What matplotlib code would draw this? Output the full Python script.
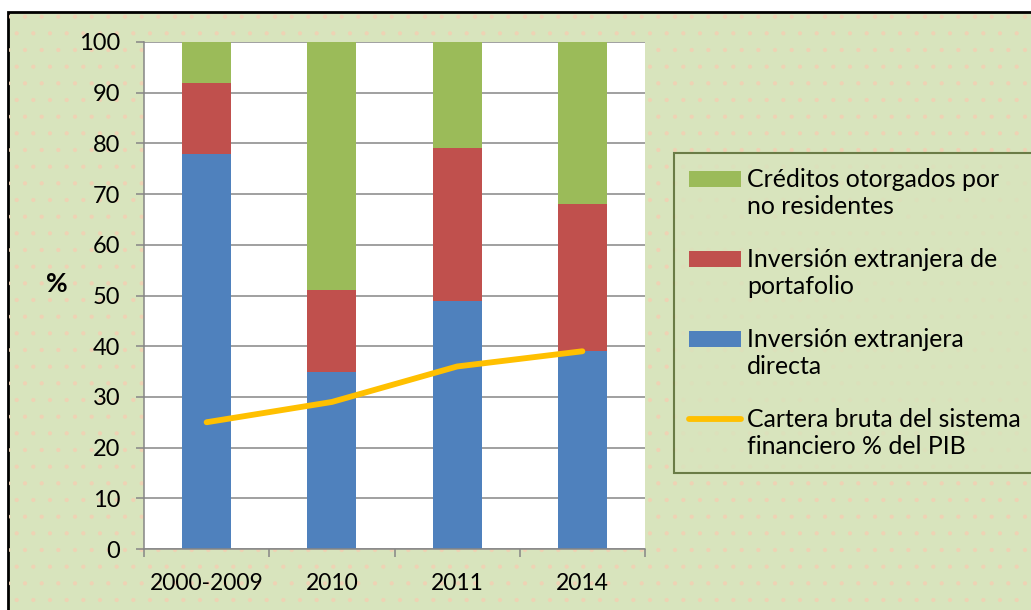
import matplotlib
matplotlib.use("Agg")
import matplotlib.pyplot as plt
from matplotlib.patches import Patch, Rectangle
from matplotlib.lines import Line2D
import numpy as np

plt.rcParams['font.family'] = ['Lato', 'DejaVu Sans']
plt.rcParams['hatch.linewidth'] = 0.6

categories = ["2000-2009", "2010", "2011", "2014"]
ied = [78, 35, 49, 39]          # Inversión extranjera directa
portafolio = [14, 16, 30, 29]   # Inversión extranjera de portafolio
creditos = [8, 49, 21, 32]      # Créditos otorgados por no residentes
cartera = [25, 29, 36, 39]      # Cartera bruta del sistema financiero % del PIB

c_blue = "#4F81BD"
c_red = "#C0504D"
c_green = "#9BBB59"
c_line = "#FFC000"
bg = "#D8E4BD"

fig = plt.figure(figsize=(10.31, 6.10), dpi=100)
fig.patch.set_facecolor("white")
# chart area background with black border (and faint dot pattern)
fig.patches.append(Rectangle((8 / 1031, -0.05), 1.1, 1 - 12 / 610 + 0.05,
                             transform=fig.transFigure, facecolor=bg,
                             edgecolor="black", linewidth=2, zorder=-10))
fig.patches.append(Rectangle((9 / 1031, -0.05), 1.1, 1 - 13 / 610 + 0.05,
                             transform=fig.transFigure, facecolor="none",
                             edgecolor="#EFD2B4", linewidth=0, hatch=".",
                             zorder=-9))

ax = fig.add_axes([144 / 1031, 1 - 549 / 610, (645 - 144) / 1031, (549 - 42) / 610])
ax.set_facecolor("white")

x = np.arange(len(categories))
w = 0.39
bottom2 = np.array(ied)
bottom3 = bottom2 + np.array(portafolio)
ax.bar(x, ied, w, color=c_blue, zorder=2)
ax.bar(x, portafolio, w, bottom=bottom2, color=c_red, zorder=2)
ax.bar(x, creditos, w, bottom=bottom3, color=c_green, zorder=2)
ax.plot(x, cartera, color=c_line, linewidth=4.2, solid_capstyle="round",
        solid_joinstyle="round", zorder=3)

ax.set_xlim(-0.5, len(categories) - 0.5)
ax.set_ylim(0, 100)
ax.set_yticks(np.arange(0, 101, 10))
ax.yaxis.grid(True, color="#868686", linewidth=1.1)
ax.set_axisbelow(True)

ax.set_xticks(x)
ax.set_xticklabels(categories)
ax.set_xticks(np.arange(-0.5, len(categories), 1), minor=True)
ax.tick_params(axis="x", which="major", length=0, pad=17, labelsize=16.5)
ax.tick_params(axis="x", which="minor", length=6, color="#868686", width=1.1)
ax.tick_params(axis="y", length=6, color="#868686", width=1.1, pad=11, labelsize=17)

for s in ["top", "right"]:
    ax.spines[s].set_visible(False)
for s in ["left", "bottom"]:
    ax.spines[s].set_color("#868686")
    ax.spines[s].set_linewidth(1.1)

ax.set_ylabel("%", rotation=0, fontsize=19, fontweight="bold")
ax.yaxis.set_label_coords(-0.174, 0.5)

handles = [Patch(facecolor=c_green), Patch(facecolor=c_red), Patch(facecolor=c_blue),
           Line2D([0], [0], color=c_line, linewidth=4.2, solid_capstyle="round")]
labels = ["Créditos otorgados por\nno residentes",
          "Inversión extranjera de\nportafolio",
          "Inversión extranjera\ndirecta",
          "Cartera bruta del sistema\nfinanciero % del PIB"]
fs = 17.9
leg = fig.legend(handles, labels, loc="upper left",
                 bbox_to_anchor=(674 / 1031, 1 - 153 / 610), fontsize=fs,
                 frameon=True, fancybox=False, handlelength=2.1, handleheight=0.6,
                 handletextpad=0.25, labelspacing=1.22, borderpad=0.6,
                 borderaxespad=0, facecolor=bg)
leg.get_frame().set_edgecolor("#4F6228")
leg.get_frame().set_linewidth(1.5)

# align each legend key with the first line of its two-line label
dy = 0.5 * fs * 1.2
for h in leg.legend_handles:
    if isinstance(h, Rectangle):
        h.set_y(h.get_y() + dy)
    else:
        h.set_ydata(np.asarray(h.get_ydata()) + dy)

fig.savefig("out.png", dpi=100)
